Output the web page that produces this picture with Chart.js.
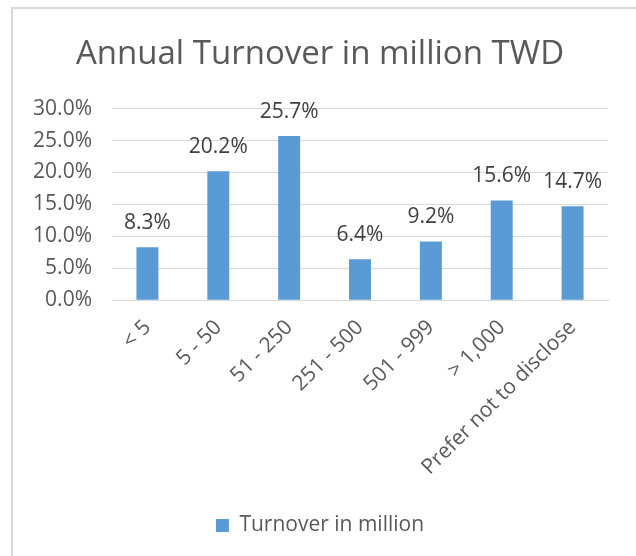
<!DOCTYPE html>
<html>
<head>
<meta charset="utf-8">
<script src="https://cdn.jsdelivr.net/npm/chart.js@4/dist/chart.umd.min.js"></script>
<style>
    html, body { margin: 0; padding: 0; background: #fff; overflow: hidden; }
    #wrap { position: absolute; left: 0; top: 0; width: 636px; height: 556px; }
    #frame { position: absolute; left: 11px; top: 7px; width: 700px; height: 700px;
             border: 2px solid #d9d9d9; pointer-events: none; }
</style>
</head>
<body>
<div id="wrap"><canvas id="turnover"></canvas></div>
<div id="frame"></div>
<script>
var categories = ['< 5', '5 - 50', '51 - 250', '251 - 500', '501 - 999', '> 1,000', 'Prefer not to disclose'];
var turnover = [0.083, 0.202, 0.257, 0.064, 0.092, 0.156, 0.147];
var seriesName = 'Turnover in million';
var chartTitle = 'Annual Turnover in million TWD';

var fontFamily = '"Open Sans", "Noto Sans", sans-serif';
var textColor = '#595959';

function pct(v) {
    return (v * 100).toFixed(1) + '%';
}

// draws the value above each bar
var barLabels = {
    id: 'barLabels',
    afterDatasetsDraw: function(chart) {
        var ctx = chart.ctx;
        var meta = chart.getDatasetMeta(0);
        ctx.save();
        ctx.font = '21px ' + fontFamily;
        ctx.fillStyle = '#404040';
        ctx.textAlign = 'center';
        ctx.textBaseline = 'bottom';
        meta.data.forEach(function(bar, i) {
            ctx.fillText(pct(chart.data.datasets[0].data[i]), bar.x, bar.y - 14);
        });
        ctx.restore();
    }
};

new Chart(document.getElementById('turnover').getContext('2d'), {
    type: 'bar',
    data: {
        labels: categories,
        datasets: [{
            label: seriesName,
            data: turnover,
            backgroundColor: '#5b9bd5',
            borderWidth: 0,
            barPercentage: 0.31,
            categoryPercentage: 1
        }]
    },
    options: {
        responsive: true,
        maintainAspectRatio: false,
        animation: false,
        layout: { padding: { left: 32, right: 28, top: 14, bottom: 10 } },
        plugins: {
            title: {
                display: true,
                text: chartTitle,
                color: textColor,
                font: { family: fontFamily, size: 33, weight: 'normal' },
                padding: { top: 21, bottom: 34 }
            },
            legend: {
                position: 'bottom',
                labels: {
                    color: textColor,
                    font: { family: fontFamily, size: 21 },
                    boxWidth: 13,
                    boxHeight: 13,
                    padding: 20
                }
            },
            tooltip: { enabled: false }
        },
        scales: {
            x: {
                grid: { display: false, drawTicks: false },
                border: { color: '#d9d9d9', width: 1 },
                ticks: {
                    color: textColor,
                    font: { family: fontFamily, size: 21 },
                    minRotation: 45,
                    maxRotation: 45,
                    padding: 15
                }
            },
            y: {
                min: 0,
                max: 0.3,
                afterFit: function(scale) { scale.width = 80; },
                grid: { color: '#d9d9d9', drawTicks: false },
                border: { display: false },
                ticks: {
                    stepSize: 0.05,
                    color: textColor,
                    font: { family: fontFamily, size: 21 },
                    padding: 20,
                    callback: function(v) { return pct(v); }
                }
            }
        }
    },
    plugins: [barLabels]
});
</script>
</body>
</html>
